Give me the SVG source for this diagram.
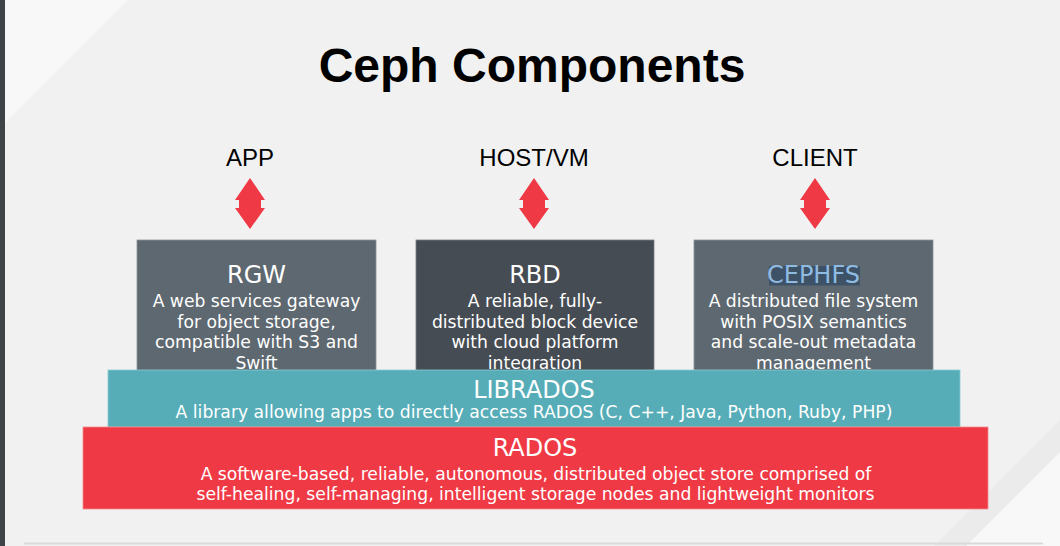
<svg xmlns="http://www.w3.org/2000/svg" xmlns:xlink="http://www.w3.org/1999/xlink" width="1060" height="546" viewBox="0 0 1060 546">
<style>
.lbl{font-family:"Liberation Sans",Arial,sans-serif;font-size:24px;fill:#000;text-anchor:middle}
.ttl{font-family:"DejaVu Sans",sans-serif;font-size:24px;fill:#fff;text-anchor:middle}
.dsc{font-family:"DejaVu Sans",sans-serif;font-size:17.2px;fill:#fff;text-anchor:middle}
.arrow{fill:#ef3a45}
</style>
<defs>
<path id="dbl" d="M0,178 L15,200 L11,200 L11,208 L15,208 L0,229 L-15,208 L-11,208 L-11,200 L-15,200 Z"/>
</defs>
<rect x="0" y="0" width="1060" height="546" fill="#f1f1f1"/>
<polygon points="5,0 128,0 5,123" fill="#f8f8f8"/>
<polygon points="1060,420 934,546 1060,546" fill="#ebebeb"/>
<polygon points="1060,452 966,546 1060,546" fill="#f8f8f8"/>
<rect x="0" y="0" width="5" height="546" fill="#3e4347"/>
<line x1="24" y1="543.5" x2="1043" y2="543.5" stroke="#d9d9d9" stroke-width="2"/>
<text x="532" y="82" font-family="'Liberation Sans',Arial,sans-serif" font-size="48" font-weight="bold" text-anchor="middle" fill="#000">Ceph Components</text>
<g id="app"><text class="lbl" x="250" y="166">APP</text></g>
<g id="hostvm"><text class="lbl" x="534" y="166">HOST/VM</text></g>
<g id="client"><text class="lbl" x="815" y="166">CLIENT</text></g>
<g id="connectors">
<use xlink:href="#dbl" class="arrow" x="250"/>
<use xlink:href="#dbl" class="arrow" x="534"/>
<use xlink:href="#dbl" class="arrow" x="815"/>
</g>
<g id="rgw">
<rect x="137" y="240" width="239" height="132" fill="#5e6870" stroke="#8a939a" stroke-width="0.8"/>
<text class="ttl" x="256.5" y="283">RGW</text>
<text class="dsc" x="256.5" y="307">A web services gateway</text>
<text class="dsc" x="256.5" y="327.5">for object storage,</text>
<text class="dsc" x="256.5" y="348">compatible with S3 and</text>
<text class="dsc" x="256.5" y="368.5">Swift</text>
</g>
<g id="rbd">
<rect x="416" y="240" width="238" height="132" fill="#464c53" stroke="#7a8087" stroke-width="0.8"/>
<text class="ttl" x="535" y="283">RBD</text>
<text class="dsc" x="535" y="307">A reliable, fully-</text>
<text class="dsc" x="535" y="327.5">distributed block device</text>
<text class="dsc" x="535" y="348">with cloud platform</text>
<text class="dsc" x="535" y="368.5">integration</text>
</g>
<g id="cephfs">
<rect x="694" y="240" width="239" height="132" fill="#5e6870" stroke="#8a939a" stroke-width="0.8"/>
<rect x="769" y="266" width="91" height="19.5" fill="#3d5266"/>
<text class="ttl" x="813.5" y="283" style="fill:#8fbbe2">CEPHFS</text>
<text class="dsc" x="813.5" y="307">A distributed file system</text>
<text class="dsc" x="813.5" y="327.5">with POSIX semantics</text>
<text class="dsc" x="813.5" y="348">and scale-out metadata</text>
<text class="dsc" x="813.5" y="368.5">management</text>
</g>
<g id="librados">
<rect x="108" y="370" width="852" height="57" fill="#56adb8" stroke="#8ccbd3" stroke-width="0.8"/>
<text class="ttl" x="534" y="398">LIBRADOS</text>
<text class="dsc" x="534" y="418">A library allowing apps to directly access RADOS (C, C++, Java, Python, Ruby, PHP)</text>
</g>
<g id="rados">
<rect x="83" y="427" width="905" height="82" fill="#ef3a45" stroke="#f58a90" stroke-width="0.8"/>
<text class="ttl" x="535" y="456">RADOS</text>
<text class="dsc" x="536" y="480">A software-based, reliable, autonomous, distributed object store comprised of</text>
<text class="dsc" x="535.5" y="500">self-healing, self-managing, intelligent storage nodes and lightweight monitors</text>
</g>
</svg>
